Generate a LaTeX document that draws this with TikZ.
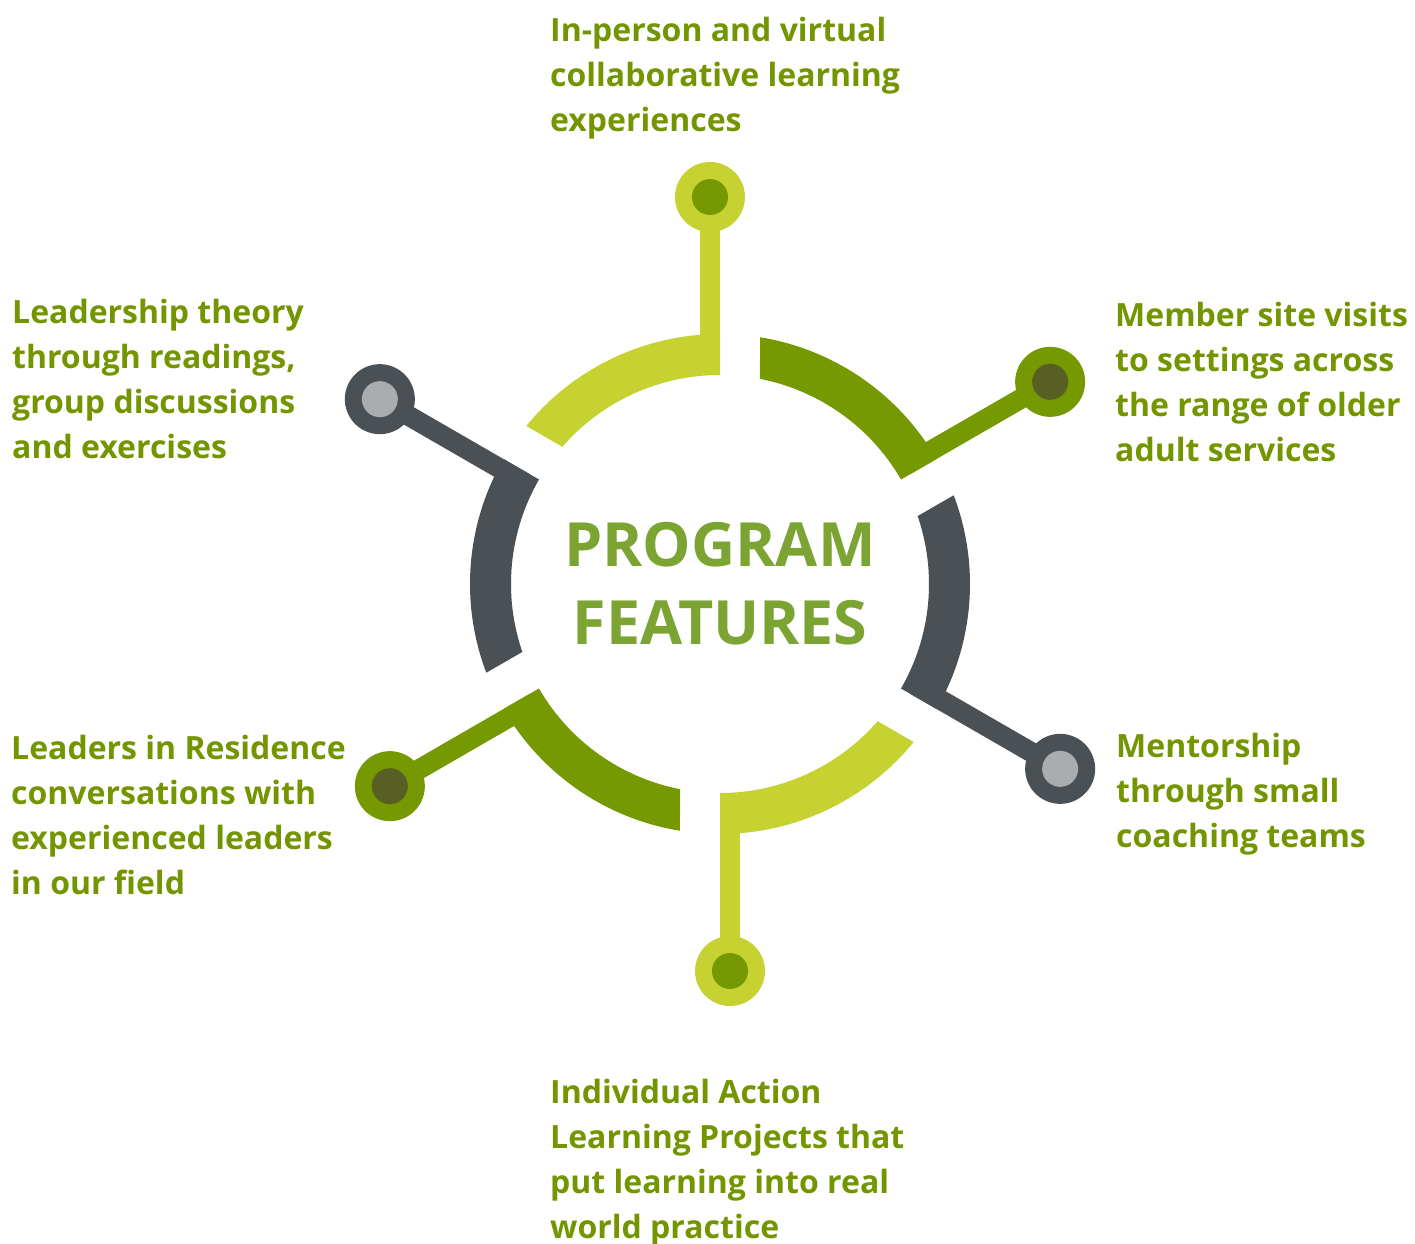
\documentclass[tikz,border=0pt]{standalone}
\usepackage{fontspec}
\setmainfont{Open Sans}
\definecolor{ringlime}{HTML}{C5D231}
\definecolor{ringleaf}{HTML}{769800}
\definecolor{ringslate}{HTML}{4B5055}
\definecolor{dotgray}{HTML}{A9ADAF}
\definecolor{dotolive}{HTML}{585F23}
\definecolor{textgreen}{HTML}{739600}
\definecolor{titlegreen}{HTML}{7BA432}
\tikzset{
  feature/.style={anchor=base west, align=left, inner sep=0pt, text=textgreen,
    font=\fontsize{32}{45}\selectfont\bfseries},
  title/.style={align=center, inner sep=0pt, text=titlegreen,
    font=\fontsize{61}{78}\selectfont\bfseries}
}
\begin{document}
\begin{tikzpicture}[x=1pt,y=1pt]
\useasboundingbox (-720,-659) rectangle (695,584);

% ring segments with stems and dots
\foreach \a/\ring/\dot in {90/ringlime/ringleaf, 150/ringslate/dotgray, 210/ringleaf/dotolive,
  270/ringlime/ringleaf, 330/ringslate/dotgray, 30/ringleaf/dotolive}
{
  \begin{scope}[rotate=\a]
  \fill[\ring] (0:209) -- (0:250) arc[start angle=0, end angle=50.79, radius=250]
    -- (48.97:209) arc[start angle=48.97, end angle=0, radius=209] -- cycle;
  \fill[\ring] (220,0) rectangle (370,20);
  \fill[\ring] (387,10) circle (35);
  \fill[\dot] (387,10) circle (18);
  \end{scope}
}

\node[title] (center) at (0,0) {PROGRAM\\FEATURES};

% labels, anchored at the baseline of their last line
\node[feature] (virtual) at (-170,452) {In-person and virtual\\collaborative learning\\experiences};
\node[feature] (visits) at (395,123) {Member site visits\\to settings across\\the range of older\\adult services};
\node[feature] (theory) at (-708,126) {Leadership theory\\through readings,\\group discussions\\and exercises};
\node[feature] (residence) at (-709,-310) {Leaders in Residence\\conversations with\\experienced leaders\\in our field};
\node[feature] (mentor) at (396,-263) {Mentorship\\through small\\coaching teams};
\node[feature] (projects) at (-170,-654) {Individual Action\\Learning Projects that\\put learning into real\\world practice};
\end{tikzpicture}
\end{document}
